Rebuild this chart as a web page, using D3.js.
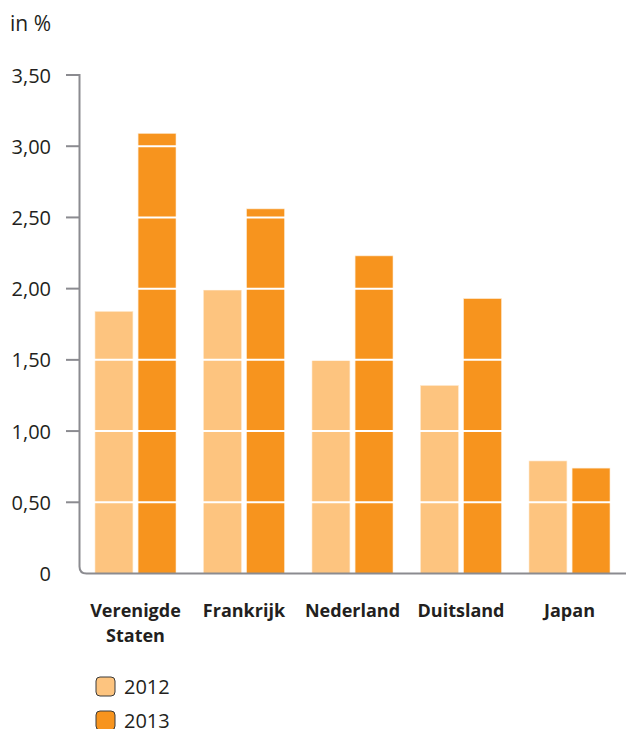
<!DOCTYPE html>
<html><head><meta charset="utf-8">
<script src="https://cdn.jsdelivr.net/npm/d3@7"></script>
<style>
body{margin:0;background:#fff;}
text{font-family:"Open Sans",Lato,sans-serif;fill:#231f20;}
</style></head>
<body>
<svg id="c" width="626" height="729"></svg>
<script>
const categories = [["Verenigde","Staten"],["Frankrijk"],["Nederland"],["Duitsland"],["Japan"]];
const years = ["2012","2013"];
const values2012 = [1.84, 1.99, 1.50, 1.32, 0.79];
const values2013 = [3.09, 2.56, 2.23, 1.93, 0.74];
const yTicks = [0, 0.5, 1, 1.5, 2, 2.5, 3, 3.5];
const yTickLabels = ["0","0,50","1,00","1,50","2,00","2,50","3,00","3,50"];
const colors = ["#FDC47F","#F7941E"];

const svg = d3.select("#c");
const keys = categories.map(c => c.join(" "));
const series = [values2012, values2013];

const y = d3.scaleLinear().domain([0, 3.5]).range([573.5, 75]);
const x0 = d3.scaleBand().domain(keys).range([81.25, 623.75]).paddingInner(0.2535).paddingOuter(0.1267);
const x1 = d3.scaleBand().domain(years).range([0, x0.bandwidth()]).paddingInner(0.12);

// bars
const g = svg.append("g");
keys.forEach((k, i) => {
  years.forEach((yr, j) => {
    g.append("rect")
      .attr("x", x0(k) + x1(yr))
      .attr("y", y(series[j][i]))
      .attr("width", x1.bandwidth())
      .attr("height", y(0) - y(series[j][i]))
      .attr("fill", colors[j])
      .attr("stroke", "#fde9cf").attr("stroke-width", 0.6);
  });
});
// white grid lines across bars
svg.append("g").selectAll("line").data(yTicks.filter(t => t > 0)).join("line")
  .attr("x1", 82).attr("x2", 626)
  .attr("y1", d => y(d)).attr("y2", d => y(d))
  .attr("stroke", "#fff").attr("stroke-width", 2);

// axis
const axisColor = "#8b8b90";
const r = 7;
svg.append("path")
  .attr("d", `M66,${y(3.5)} H79.5 V${y(0)-r} Q79.5,${y(0)} ${79.5+r},${y(0)} H626`)
  .attr("fill","none").attr("stroke", axisColor).attr("stroke-width", 2);
svg.append("g").selectAll("line").data(yTicks.filter(t => t > 0 && t < 3.5)).join("line")
  .attr("x1", 66).attr("x2", 79.5)
  .attr("y1", d => y(d)).attr("y2", d => y(d))
  .attr("stroke", axisColor).attr("stroke-width", 2);

// tick labels
svg.append("g").selectAll("text").data(yTicks).join("text")
  .attr("x", 51).attr("y", d => y(d) + 7.5)
  .attr("text-anchor", "end").attr("font-size", 20)
  .text((d, i) => yTickLabels[i]);

svg.append("text").attr("x", 10).attr("y", 31).attr("font-size", 21).text("in %");

// category labels
categories.forEach((c, i) => {
  const t = svg.append("text")
    .attr("x", x0(keys[i]) + x0.bandwidth()/2)
    .attr("y", 617).attr("text-anchor", "middle")
    .attr("font-size", 18).attr("font-weight", "bold");
  c.forEach((line, li) => {
    t.append("tspan").attr("x", x0(keys[i]) + x0.bandwidth()/2)
      .attr("dy", li === 0 ? 0 : 25).text(line);
  });
});

// legend
years.forEach((yr, j) => {
  const ly = 677 + j * 34;
  svg.append("rect").attr("x", 96).attr("y", ly).attr("width", 19).attr("height", 19)
    .attr("rx", 4).attr("fill", colors[j]).attr("stroke", "#3a3a3a").attr("stroke-width", 1);
  svg.append("text").attr("x", 124).attr("y", ly + 17).attr("font-size", 20).text(yr);
});
</script>
</body></html>
